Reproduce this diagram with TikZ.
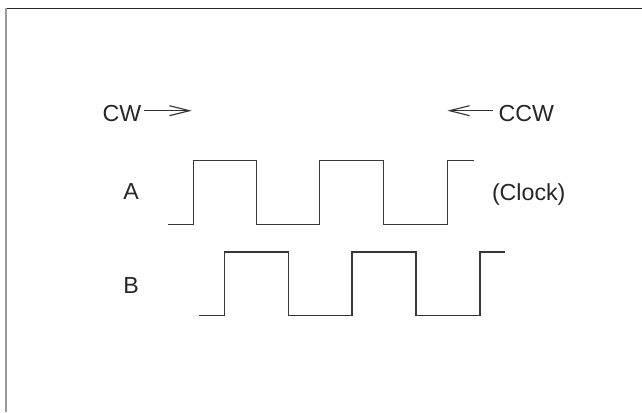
\documentclass[tikz,border=0pt]{standalone}
\usepackage{fontspec}
\setmainfont{Liberation Sans}
\usetikzlibrary{arrows.meta}
\begin{document}
\begin{tikzpicture}[x=1pt,y=-1pt,
  wave/.style={line width=1.3pt,draw=black!78,line join=miter},
  lbl/.style={inner sep=0pt,outer sep=0pt,text=black!85,font=\fontsize{23.2}{27}\selectfont},
  dirarrow/.style={line width=1.1pt,draw=black!80,-{Straight Barb[length=20pt,width=10pt,line width=1.1pt]}}]
\useasboundingbox (0,0) rectangle (642,412);
\fill[white] (0,0) rectangle (642,412);
% frame
\draw[line width=1.2pt,black!85] (5,8.5) -- (642,8.5);
\draw[line width=2pt,black!40] (6,8) -- (6,412);
% labels
\node[lbl,anchor=base west] (cw) at (102.5,121.5) {CW};
\node[lbl,anchor=base west] (ccw) at (498.5,121.5) {CCW};
\node[lbl,anchor=base] (la) at (131,199.5) {A};
\node[lbl,anchor=base] (lb) at (131,293.5) {B};
\node[lbl,anchor=base west] (clk) at (492,200.5) {(Clock)};
\coordinate (cwtip) at (191.7,110.7);
\coordinate (ccwtip) at (447.3,110.7);
\draw[dirarrow] (cw.east |- cwtip) ++(3pt,0) -- (cwtip);
\draw[dirarrow] (ccw.west |- ccwtip) ++(-6pt,0) -- (ccwtip);
% waveform A
\draw[wave] (167.9,224.5) -- (193.2,224.5) -- (193.2,160.7) -- (256.7,160.7)
  -- (256.7,224.5) -- (319.8,224.5) -- (319.8,160.7) -- (383.6,160.7)
  -- (383.6,224.5) -- (447.5,224.5) -- (447.5,160.7) -- (473.5,160.7);
% waveform B
\draw[wave] (199.4,315.5) -- (224.8,315.5) -- (224.8,252) -- (288.6,252)
  -- (288.6,315.5) -- (352.1,315.5) -- (352.1,252) -- (416,252)
  -- (416,315.5) -- (479.9,315.5) -- (479.9,252) -- (504.8,252);
\end{tikzpicture}
\end{document}
